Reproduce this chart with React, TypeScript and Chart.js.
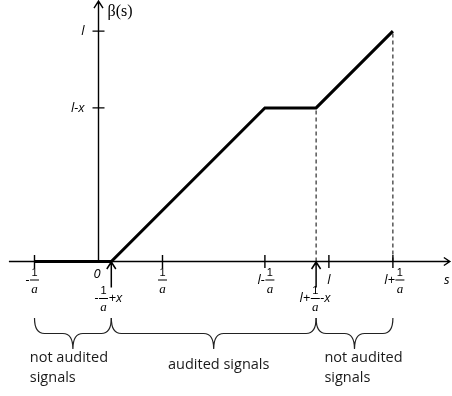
import React, { useEffect, useRef } from "react";
import { Chart, registerables } from "chart.js";

Chart.register(...registerables);

// ---- data (units: 1/a = 1, l = 3.6, x = 1.2) ----
const sPoints = [-1, 0.2, 2.6, 3.4, 4.6];
const betaPoints = [0, 0, 2.4, 2.4, 3.6];
const dashedS = [3.4, 4.6];
const dashedTop = [2.4, 3.6];
const xTickValues = [-1, 1, 2.6, 3.6, 4.6];
const xTickLabels = ["-{1/a}", "{1/a}", "l-{1/a}", "l", "l+{1/a}"];
const markerValues = [0.2, 3.4];
const markerLabels = ["-{1/a}+x", "l+{1/a}-x"];
const yTickValues = [3.6, 2.4];
const yTickLabels = ["l", "l-x"];
const braceStarts = [-1, 0.2, 3.4];
const braceEnds = [0.2, 3.4, 4.6];
const braceLabels = [["not audited", "signals"], ["audited signals"], ["not audited", "signals"]];
const originLabel = "0";
const xAxisName = "s";
const yAxisName = "β(s)";

// ---- layout / style ----
const W = 452;
const H = 396;
const UNIT = 64;
const ORIGIN_PX = 98.5;
const ORIGIN_PY = 261.5;
const X_MIN = -ORIGIN_PX / UNIT;
const X_MAX = (W - ORIGIN_PX) / UNIT;
const Y_MAX = ORIGIN_PY / UNIT;
const Y_MIN = (ORIGIN_PY - H) / UNIT;
const X_AXIS_FROM = -1.4;
const X_AXIS_TO = 5.49;
const Y_AXIS_TO = 4.07;
const xTickNudge = [0, 0, 5, 0, 7];
const markerNudge = [-3, -1];
const braceTextNudge = [-4, 5, 9];

const ITALIC = 'italic 13px "Open Sans"';
const ONE_FONT = '11px "Liberation Sans"';
const A_FONT = 'italic 13px "Liberation Serif"';
const BODY = '14.5px "Open Sans"';
const BETA = '16px "Liberation Serif"';
const FRAC_W = 9;

function drawFrac(ctx: CanvasRenderingContext2D, cx: number, barY: number) {
  ctx.textAlign = "center";
  ctx.textBaseline = "middle";
  ctx.font = ONE_FONT;
  ctx.fillText("1", cx, barY - 7.5);
  ctx.fillRect(cx - FRAC_W / 2, barY - 0.5, FRAC_W, 1);
  ctx.font = A_FONT;
  ctx.fillText("a", cx, barY + 9.5);
}

function drawComposite(
  ctx: CanvasRenderingContext2D,
  label: string,
  anchor: number,
  barY: number,
  mode: "frac" | "center"
) {
  if (label.indexOf("{1/a}") < 0) {
    ctx.font = ITALIC;
    ctx.textAlign = "center";
    ctx.textBaseline = "middle";
    ctx.fillText(label, anchor, barY);
    return;
  }
  const [pre, post] = label.split("{1/a}");
  ctx.font = ITALIC;
  const wPre = pre ? ctx.measureText(pre).width + 1 : 0;
  const wPost = post ? ctx.measureText(post).width + 1 : 0;
  const total = wPre + FRAC_W + wPost;
  const fracCx = mode === "frac" ? anchor : anchor - total / 2 + wPre + FRAC_W / 2;
  ctx.font = ITALIC;
  ctx.textBaseline = "middle";
  if (pre) {
    ctx.textAlign = "right";
    ctx.fillText(pre, fracCx - FRAC_W / 2 - 0.5, barY);
  }
  if (post) {
    ctx.textAlign = "left";
    ctx.font = ITALIC;
    ctx.fillText(post, fracCx + FRAC_W / 2 + 0.5, barY);
  }
  drawFrac(ctx, fracCx, barY);
}

const diagramPlugin = {
  id: "diagram",
  beforeDatasetsDraw(chart: any) {
    const ctx: CanvasRenderingContext2D = chart.ctx;
    const xs = chart.scales.x;
    const ys = chart.scales.y;
    const y0 = ys.getPixelForValue(0);
    const x0 = xs.getPixelForValue(0);
    ctx.save();
    ctx.strokeStyle = "#000";
    ctx.fillStyle = "#000";
    ctx.lineWidth = 1.4;
    // x axis
    const xa = xs.getPixelForValue(X_AXIS_FROM);
    const xb = xs.getPixelForValue(X_AXIS_TO);
    ctx.beginPath();
    ctx.moveTo(xa, y0);
    ctx.lineTo(xb, y0);
    ctx.moveTo(xb - 6, y0 - 4);
    ctx.lineTo(xb, y0);
    ctx.lineTo(xb - 6, y0 + 4);
    ctx.stroke();
    // y axis
    const yt = ys.getPixelForValue(Y_AXIS_TO);
    ctx.beginPath();
    ctx.moveTo(x0, y0);
    ctx.lineTo(x0, yt);
    ctx.moveTo(x0 - 4.5, yt + 7);
    ctx.lineTo(x0, yt);
    ctx.lineTo(x0 + 4.5, yt + 7);
    ctx.stroke();
    // ticks
    ctx.beginPath();
    xTickValues.forEach((v) => {
      const px = xs.getPixelForValue(v);
      ctx.moveTo(px, y0 - 6.5);
      ctx.lineTo(px, y0 + 6.5);
    });
    yTickValues.forEach((v) => {
      const py = ys.getPixelForValue(v);
      ctx.moveTo(x0 - 6, py);
      ctx.lineTo(x0 + 6, py);
    });
    ctx.stroke();
    ctx.restore();
  },
  afterDatasetsDraw(chart: any) {
    const ctx: CanvasRenderingContext2D = chart.ctx;
    const xs = chart.scales.x;
    const ys = chart.scales.y;
    const y0 = ys.getPixelForValue(0);
    const x0 = xs.getPixelForValue(0);
    ctx.save();
    ctx.strokeStyle = "#000";
    ctx.fillStyle = "#000";
    // marker arrows
    ctx.lineWidth = 1.5;
    markerValues.forEach((v, i) => {
      const px = xs.getPixelForValue(v);
      ctx.beginPath();
      ctx.moveTo(px, y0 + 26);
      ctx.lineTo(px, y0 + 0.5);
      ctx.moveTo(px - 4.5, y0 + 7.5);
      ctx.lineTo(px, y0 + 0.5);
      ctx.lineTo(px + 4.5, y0 + 7.5);
      ctx.stroke();
      drawComposite(ctx, markerLabels[i], px + markerNudge[i], y0 + 37, "center");
    });
    // x tick labels
    xTickValues.forEach((v, i) => {
      const px = xs.getPixelForValue(v) + xTickNudge[i];
      drawComposite(ctx, xTickLabels[i], px, y0 + 18.5, "frac");
    });
    // origin
    ctx.font = ITALIC;
    ctx.textAlign = "center";
    ctx.textBaseline = "middle";
    ctx.fillText(originLabel, x0 - 1.5, y0 + 13);
    // axis names
    ctx.fillText(xAxisName, xs.getPixelForValue(X_AXIS_TO) - 3, y0 + 18.5);
    ctx.font = BETA;
    ctx.textAlign = "left";
    ctx.fillText(yAxisName, x0 + 9, 12);
    // y tick labels
    ctx.font = ITALIC;
    ctx.textAlign = "right";
    yTickValues.forEach((v, i) => {
      ctx.fillText(yTickLabels[i], x0 - 14, ys.getPixelForValue(v));
    });
    // braces
    ctx.lineWidth = 1.2;
    ctx.strokeStyle = "#222";
    const yTop = 318;
    const yMid = 333.5;
    const yTip = 349;
    const r = 10;
    braceStarts.forEach((s, i) => {
      const a = xs.getPixelForValue(s);
      const b = xs.getPixelForValue(braceEnds[i]);
      const tip = (a + b) / 2;
      ctx.beginPath();
      ctx.moveTo(a, yTop);
      ctx.quadraticCurveTo(a, yMid, a + r, yMid);
      ctx.lineTo(tip - r, yMid);
      ctx.quadraticCurveTo(tip, yMid, tip, yTip);
      ctx.quadraticCurveTo(tip, yMid, tip + r, yMid);
      ctx.lineTo(b - r, yMid);
      ctx.quadraticCurveTo(b, yMid, b, yTop);
      ctx.stroke();
      // labels
      ctx.font = BODY;
      ctx.fillStyle = "#1a1a1a";
      const lines = braceLabels[i];
      const bw = Math.max(...lines.map((t) => ctx.measureText(t).width));
      const left = tip + braceTextNudge[i] - bw / 2;
      ctx.textAlign = "left";
      ctx.textBaseline = "middle";
      if (lines.length === 1) {
        ctx.fillText(lines[0], left, 365);
      } else {
        lines.forEach((t, k) => ctx.fillText(t, left, 358 + k * 20));
      }
    });
    ctx.restore();
  },
};

export default function App() {
  const ref = useRef<HTMLCanvasElement>(null);
  useEffect(() => {
    const canvas = ref.current;
    if (!canvas) return;
    const chart = new Chart(canvas, {
      type: "scatter",
      data: {
        datasets: [
          {
            data: sPoints.map((s, i) => ({ x: s, y: betaPoints[i] })),
            showLine: true,
            borderColor: "#000",
            borderWidth: 3,
            pointRadius: 0,
            borderJoinStyle: "miter",
            borderCapStyle: "butt",
          } as any,
          ...dashedS.map(
            (s, i) =>
              ({
                data: [
                  { x: s, y: 0 },
                  { x: s, y: dashedTop[i] },
                ],
                showLine: true,
                borderColor: "#000",
                borderWidth: 1,
                borderDash: [4, 3],
                pointRadius: 0,
              } as any)
          ),
        ],
      },
      options: {
        responsive: false,
        animation: false,
        devicePixelRatio: 1,
        events: [],
        layout: { padding: 0 },
        plugins: { legend: { display: false }, tooltip: { enabled: false } },
        scales: {
          x: { type: "linear", min: X_MIN, max: X_MAX, display: false },
          y: { type: "linear", min: Y_MIN, max: Y_MAX, display: false },
        },
      },
      plugins: [diagramPlugin],
    });
    return () => chart.destroy();
  }, []);
  return (
    <div style={{ position: "absolute", left: 0, top: 0, width: W, height: H, background: "#fff" }}>
      <canvas ref={ref} width={W} height={H} style={{ display: "block", width: W, height: H }} />
    </div>
  );
}
